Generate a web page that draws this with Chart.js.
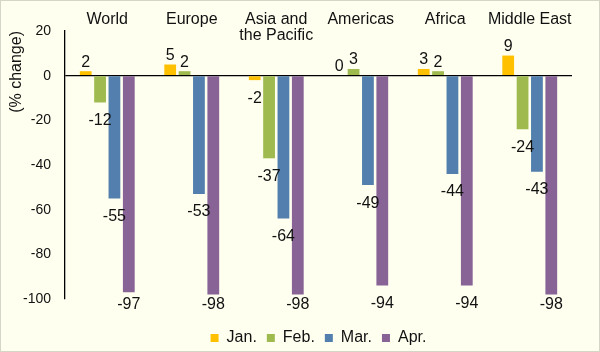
<!DOCTYPE html>
<html>
<head>
<meta charset="utf-8">
<script src="https://cdn.jsdelivr.net/npm/chart.js@4"></script>
<style>
  html, body { margin: 0; padding: 0; background: #fffff0; }
  #wrap { width: 600px; height: 352px; position: relative; box-sizing: border-box; border: 1px solid #d6d6c8; }
</style>
</head>
<body>
<div id="wrap"><canvas id="chart" width="598" height="350"></canvas></div>
<script>
const categories = ['World', 'Europe', ['Asia and', 'the Pacific'], 'Americas', 'Africa', 'Middle East'];
const janValues = [2, 5, -2, 0, 3, 9];
const febValues = [-12, 2, -37, 3, 2, -24];
const marValues = [-55, -53, -64, -49, -44, -43];
const aprValues = [-97, -98, -98, -94, -94, -98];
const yTicks = [20, 0, -20, -40, -60, -80, -100];

const FONT = "'Liberation Sans', Arial, sans-serif";

// category names sit over the top of the plot
const topLabels = {
  id: 'topLabels',
  afterDraw(chart) {
    const ctx = chart.ctx;
    const x = chart.scales.x;
    ctx.save();
    ctx.font = '16px ' + FONT;
    ctx.fillStyle = '#111';
    ctx.textAlign = 'center';
    ctx.textBaseline = 'middle';
    categories.forEach((c, i) => {
      const lines = Array.isArray(c) ? c : [c];
      lines.forEach((l, j) => ctx.fillText(l, x.getPixelForValue(i), 19 + j * 16));
    });
    ctx.restore();
  }
};

// value labels at the end of each bar
const barValues = {
  id: 'barValues',
  afterDatasetsDraw(chart) {
    const ctx = chart.ctx;
    ctx.save();
    ctx.font = '16px ' + FONT;
    ctx.fillStyle = '#111';
    ctx.textAlign = 'center';
    ctx.textBaseline = 'middle';
    chart.data.datasets.forEach((ds, di) => {
      chart.getDatasetMeta(di).data.forEach((bar, i) => {
        const v = ds.data[i];
        let y;
        if (v >= 0) y = bar.y - 9;
        else y = Math.min(bar.y + 18, chart.chartArea.bottom + 6);
        ctx.fillText(String(v), bar.x, y);
      });
    });
    ctx.restore();
  }
};

new Chart(document.getElementById('chart'), {
  type: 'bar',
  data: {
    labels: categories,
    datasets: [
      { label: 'Jan.', data: janValues, backgroundColor: '#ffc000' },
      { label: 'Feb.', data: febValues, backgroundColor: '#9fba4e' },
      { label: 'Mar.', data: marValues, backgroundColor: '#527fad' },
      { label: 'Apr.', data: aprValues, backgroundColor: '#886396' }
    ]
  },
  options: {
    responsive: false,
    animation: false,
    layout: { padding: { top: 30, right: 27, bottom: -5, left: 0 } },
    datasets: { bar: { categoryPercentage: 0.68, barPercentage: 0.82 } },
    plugins: {
      tooltip: { enabled: false },
      legend: {
        position: 'bottom',
        fullSize: false,
        labels: { boxWidth: 8, boxHeight: 8, padding: 10, color: '#111', font: { family: FONT, size: 16 } }
      }
    },
    scales: {
      x: {
        afterFit(scale) { scale.height = 21; },
        grid: { display: false },
        border: { display: false },
        ticks: { display: false }
      },
      y: {
        min: -100,
        max: 20,
        afterFit(scale) { scale.width = 64; },
        afterBuildTicks(scale) { scale.ticks = yTicks.map(v => ({ value: v })); },
        ticks: { padding: 14, color: '#111', font: { family: FONT, size: 14 } },
        grid: {
          drawTicks: false,
          color: ctx => (ctx.tick && ctx.tick.value === 0 ? '#000' : 'rgba(0,0,0,0)'),
          lineWidth: 1.3
        },
        border: { color: '#000', width: 1.3 },
        title: { display: true, text: '(% change)', align: 'end', color: '#111', padding: { top: 6, bottom: 0 }, font: { family: FONT, size: 16 } }
      }
    }
  },
  plugins: [topLabels, barValues]
});
</script>
</body>
</html>
